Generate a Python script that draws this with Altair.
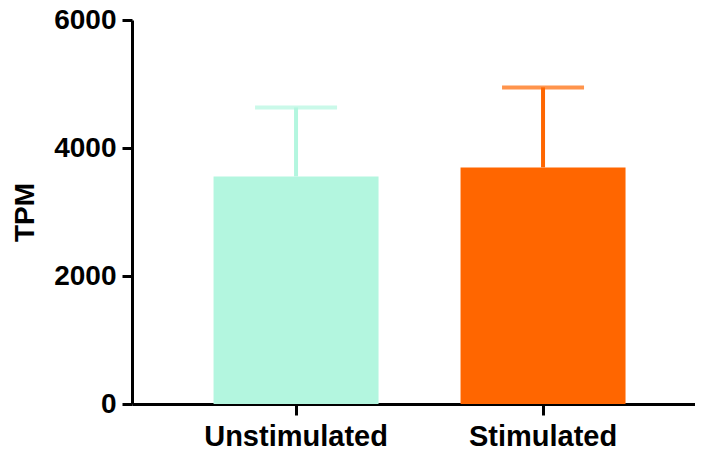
import altair as alt
import pandas as pd

categories = ["Unstimulated", "Stimulated"]
means = [3556, 3697]
sds = [1078, 1250]
colors = ["#B3F6DF", "#FF6600"]

df = pd.DataFrame({
    "group": categories,
    "mean": means,
    "upper": [m + s for m, s in zip(means, sds)],
    "color": colors,
})

FONT = "Liberation Sans"

xenc = alt.X(
    "group:N",
    sort=categories,
    scale=alt.Scale(paddingInner=0.332, paddingOuter=0.3057, align=0.54),
    axis=alt.Axis(
        title=None, labelAngle=0, labelAlign="center", labelBaseline="top",
        labelFont=FONT, labelFontSize=29, labelFontWeight="bold", labelLimit=400,
        labelColor="black", domainColor="black", domainWidth=3, tickColor="black",
        tickWidth=3, tickSize=11, labelPadding=7,
    ),
)
yscale = alt.Scale(domain=[0, 6000], nice=False)

base = alt.Chart(df)

bars = base.mark_bar().encode(
    x=xenc,
    y=alt.Y(
        "mean:Q",
        scale=yscale,
        axis=alt.Axis(
            title="TPM", values=[0, 2000, 4000, 6000], format="d", labelFont=FONT, labelFontSize=28,
            labelFontWeight="bold", labelColor="black", titleFont=FONT, titleFontSize=28,
            titleFontWeight="bold", titleColor="black", domainColor="black", domainWidth=3,
            tickColor="black", tickWidth=3, tickSize=10, labelPadding=6, titlePadding=14,
            grid=False, labelFlush=False,
        ),
    ),
    color=alt.Color("color:N", scale=None, legend=None),
)

rules = base.mark_rule(strokeWidth=4).encode(
    x=alt.X("group:N", sort=categories),
    y=alt.Y("mean:Q", scale=yscale),
    y2="upper:Q",
    color=alt.Color("color:N", scale=None, legend=None),
)

caps = base.mark_tick(orient="horizontal", size=82, thickness=4).encode(
    x=alt.X("group:N", sort=categories),
    y=alt.Y("upper:Q", scale=yscale),
    color=alt.Color("color:N", scale=None, legend=None),
)

chart = (
    alt.layer(rules, caps, bars)
    .properties(
        width=563,
        height=384,
        autosize=alt.AutoSizeParams(type="none"),
        padding={"left": 124, "top": 12, "right": 0, "bottom": 46},
    )
    .configure_view(stroke=None)
)

chart.save("out.html", embed_options={"renderer": "svg", "actions": False})
